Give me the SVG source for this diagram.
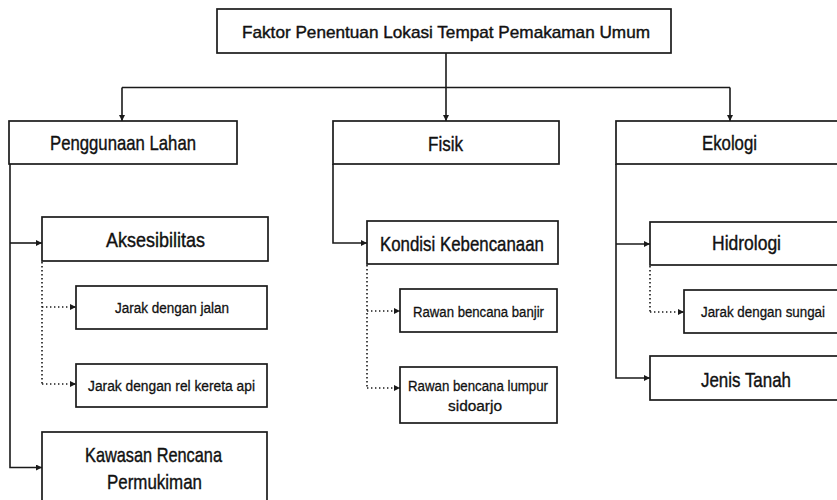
<svg xmlns="http://www.w3.org/2000/svg" width="837" height="500" viewBox="0 0 837 500">
<defs>
<marker id="ah" viewBox="0 0 10 10" refX="10" refY="5" markerWidth="6" markerHeight="6" markerUnits="userSpaceOnUse" orient="auto">
<path d="M0,0 L10,5 L0,10 Z" fill="#1a1a1a"/>
</marker>
<style>
.box{fill:#fff;stroke:#1a1a1a;stroke-width:1.7}
.t{font-family:"Liberation Sans",Arial,sans-serif;fill:#111;stroke:#111;stroke-width:0.4;text-anchor:middle}
.tt{font-size:17px}
.tl{font-size:21px}
.ts{font-size:15.5px;stroke-width:0.3}
.c{fill:none;stroke:#1a1a1a;stroke-width:1.6}
.d{fill:none;stroke:#1a1a1a;stroke-width:1.6;stroke-dasharray:1.4 2.6}
</style>
</defs>
<rect width="837" height="500" fill="#fff"/>
<g id="connectors">
<line class="c" x1="446" y1="53" x2="446" y2="121" marker-end="url(#ah)"/>
<line class="c" x1="122" y1="87.5" x2="730" y2="87.5"/>
<line class="c" x1="122" y1="87.5" x2="122" y2="121" marker-end="url(#ah)"/>
<line class="c" x1="730" y1="87.5" x2="730" y2="121" marker-end="url(#ah)"/>
<path class="c" d="M10,164 L10,467.5 L42,467.5" marker-end="url(#ah)"/>
<line class="c" x1="10" y1="243" x2="42" y2="243" marker-end="url(#ah)"/>
<path class="d" d="M42,262 L42,384"/>
<line class="d" x1="42" y1="307" x2="76" y2="307" marker-end="url(#ah)"/>
<line class="d" x1="42" y1="384" x2="76" y2="384" marker-end="url(#ah)"/>
<path class="c" d="M333,164 L333,243 L367,243" marker-end="url(#ah)"/>
<path class="d" d="M367,265 L367,388"/>
<line class="d" x1="367" y1="311" x2="400" y2="311" marker-end="url(#ah)"/>
<line class="d" x1="367" y1="388" x2="400" y2="388" marker-end="url(#ah)"/>
<path class="c" d="M616,164 L616,378 L650,378" marker-end="url(#ah)"/>
<line class="c" x1="616" y1="244" x2="650" y2="244" marker-end="url(#ah)"/>
<path class="d" d="M650,266 L650,312"/>
<line class="d" x1="650" y1="312" x2="684" y2="312" marker-end="url(#ah)"/>
</g>
<g id="root">
<rect class="box" x="217" y="9" width="454" height="44"/>
<text class="t tt" x="446" y="38" textLength="408" lengthAdjust="spacingAndGlyphs">Faktor Penentuan Lokasi Tempat Pemakaman Umum</text>
</g>
<g id="penggunaan-lahan">
<rect class="box" x="9" y="121" width="228" height="43"/>
<text class="t tl" x="123" y="150" textLength="146" lengthAdjust="spacingAndGlyphs">Penggunaan Lahan</text>
</g>
<g id="aksesibilitas">
<rect class="box" x="42" y="217" width="226" height="44"/>
<text class="t tl" x="155.5" y="247" textLength="99" lengthAdjust="spacingAndGlyphs">Aksesibilitas</text>
</g>
<g id="jarak-jalan">
<rect class="box" x="76" y="286" width="191" height="43"/>
<text class="t ts" x="172" y="313" textLength="114" lengthAdjust="spacingAndGlyphs">Jarak dengan jalan</text>
</g>
<g id="jarak-rel">
<rect class="box" x="76" y="364" width="191" height="43"/>
<text class="t ts" x="171.5" y="390.5" textLength="167" lengthAdjust="spacingAndGlyphs">Jarak dengan rel kereta api</text>
</g>
<g id="kawasan">
<rect class="box" x="42" y="432" width="225" height="90"/>
<text class="t tl" x="153.5" y="461.5" textLength="137" lengthAdjust="spacingAndGlyphs">Kawasan Rencana</text>
<text class="t tl" x="154.5" y="489" textLength="95" lengthAdjust="spacingAndGlyphs">Permukiman</text>
</g>
<g id="fisik">
<rect class="box" x="333" y="121" width="226" height="43"/>
<text class="t tl" x="445.5" y="150.5" textLength="35" lengthAdjust="spacingAndGlyphs">Fisik</text>
</g>
<g id="kondisi">
<rect class="box" x="367" y="221" width="191" height="43"/>
<text class="t tl" x="462" y="250.5" textLength="164" lengthAdjust="spacingAndGlyphs">Kondisi Kebencanaan</text>
</g>
<g id="banjir">
<rect class="box" x="400" y="289" width="157" height="43"/>
<text class="t ts" x="478.5" y="316.5" textLength="131" lengthAdjust="spacingAndGlyphs">Rawan bencana banjir</text>
</g>
<g id="lumpur">
<rect class="box" x="400" y="367" width="157" height="56"/>
<text class="t ts" x="478" y="390.5" textLength="140" lengthAdjust="spacingAndGlyphs">Rawan bencana lumpur</text>
<text class="t ts" x="475" y="410.5" textLength="54" lengthAdjust="spacingAndGlyphs">sidoarjo</text>
</g>
<g id="ekologi">
<rect class="box" x="616" y="121" width="240" height="43"/>
<text class="t tl" x="729.5" y="150" textLength="55" lengthAdjust="spacingAndGlyphs">Ekologi</text>
</g>
<g id="hidrologi">
<rect class="box" x="650" y="222" width="210" height="43"/>
<text class="t tl" x="746.5" y="250" textLength="69" lengthAdjust="spacingAndGlyphs">Hidrologi</text>
</g>
<g id="jarak-sungai">
<rect class="box" x="684" y="290" width="180" height="43"/>
<text class="t ts" x="763" y="316.5" textLength="124" lengthAdjust="spacingAndGlyphs">Jarak dengan sungai</text>
</g>
<g id="jenis-tanah">
<rect class="box" x="650" y="356" width="210" height="44"/>
<text class="t tl" x="746" y="387" textLength="90" lengthAdjust="spacingAndGlyphs">Jenis Tanah</text>
</g>
</svg>
